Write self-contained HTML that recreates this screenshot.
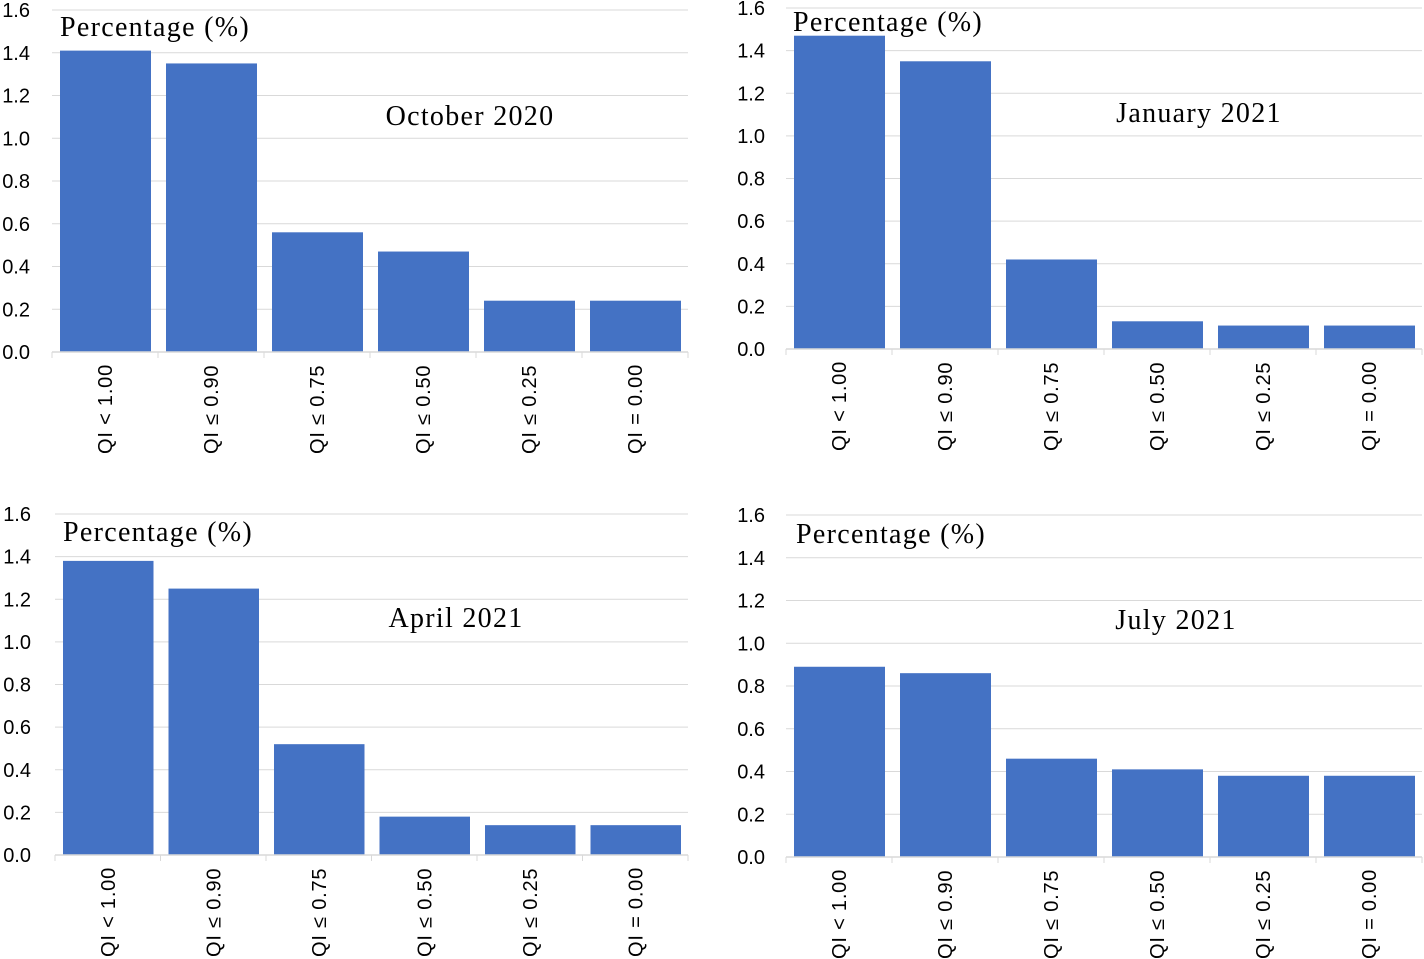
<!DOCTYPE html>
<html><head><meta charset="utf-8"><style>
body{margin:0;background:#fff;}
svg{display:block;}
.tk{font-family:"Liberation Sans",sans-serif;font-size:20px;fill:#000;}
.xl{font-family:"Liberation Sans",sans-serif;font-size:20px;fill:#000;letter-spacing:0.8px;}
.tt{font-family:"Liberation Serif",serif;font-size:28px;fill:#000;letter-spacing:1.3px;}
</style></head><body>
<svg id="c" width="1424" height="959"></svg>
<script>
const categories=["QI < 1.00","QI ≤ 0.90","QI ≤ 0.75","QI ≤ 0.50","QI ≤ 0.25","QI = 0.00"];
const octValues=[1.41,1.35,0.56,0.47,0.24,0.24];
const janValues=[1.47,1.35,0.42,0.13,0.11,0.11];
const aprValues=[1.38,1.25,0.52,0.18,0.14,0.14];
const julValues=[0.89,0.86,0.46,0.41,0.38,0.38];
const yTicks=["0.0","0.2","0.4","0.6","0.8","1.0","1.2","1.4","1.6"];
const titles=["October 2020","January 2021","April 2021","July 2021"];
const NS="http://www.w3.org/2000/svg";
const svg=document.getElementById('c');
function mk(t,a,p){const e=document.createElementNS(NS,t);for(const k in a)e.setAttribute(k,a[k]);(p||svg).appendChild(e);return e;}
const panels=[
 {v:octValues,x0:52,x1:688,y0:352,yt:10,lx:30,px:60,py:36,tx:470,ty:125},
 {v:janValues,x0:786,x1:1422,y0:349,yt:8,lx:765,px:793,py:31,tx:1199,ty:122},
 {v:aprValues,x0:55,x1:688,y0:855,yt:514,lx:31,px:63,py:541,tx:456,ty:627},
 {v:julValues,x0:786,x1:1422,y0:857,yt:515,lx:765,px:796,py:543,tx:1176,ty:629}
];
panels.forEach((p,pi)=>{
 const g=mk('g',{});
 
 
 const ys=v=>p.y0-(v/1.6)*(p.y0-p.yt);
 const bw=(p.x1-p.x0)/categories.length;
 yTicks.forEach(t=>{
  const y=ys(parseFloat(t));
  if(parseFloat(t)>0){const l=mk('line',{x1:p.x0,x2:p.x1,y1:y,y2:y,stroke:'#d9d9d9','stroke-width':1},g);
   }
  const tx=mk('text',{x:p.lx,y:y+7,'text-anchor':'end',class:'tk'},g);tx.textContent=t;
  
 });
 p.v.forEach((v,i)=>{
  const r=mk('rect',{x:p.x0+i*bw+8,y:ys(v),width:bw-15,height:p.y0-ys(v),fill:'#4472C4'},g);
  
 });
 const ax=mk('line',{x1:p.x0,x2:p.x1,y1:p.y0,y2:p.y0,stroke:'#d9d9d9','stroke-width':1.5},g);
 
 for(let i=0;i<=categories.length;i++){mk('line',{x1:p.x0+i*bw,x2:p.x0+i*bw,y1:p.y0,y2:p.y0+6,stroke:'#d9d9d9'},g);}
 categories.forEach((c,i)=>{
  const cx=p.x0+(i+0.5)*bw+7,cy=p.y0+102;
  const t=mk('text',{x:cx,y:cy,transform:`rotate(-90 ${cx} ${cy})`,class:'xl'},g);t.textContent=c;
  
 });
 const yt=mk('text',{x:p.px,y:p.py,class:'tt'},g);yt.textContent='Percentage (%)';
 
 const ct=mk('text',{x:p.tx,y:p.ty,'text-anchor':'middle',class:'tt'},g);ct.textContent=titles[pi];
 
});
</script>
</body></html>
